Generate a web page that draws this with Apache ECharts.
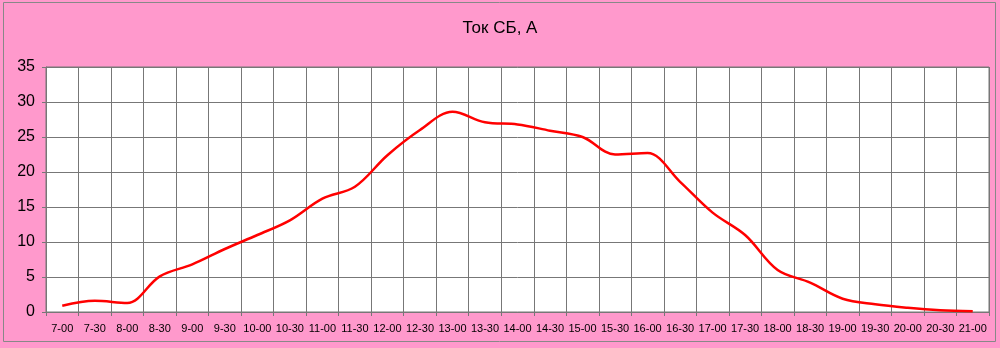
<!DOCTYPE html>
<html><head><meta charset="utf-8">
<script src="https://cdn.jsdelivr.net/npm/echarts@6/dist/echarts.min.js"></script>
<style>html,body{margin:0;padding:0;background:#FF99CC}#c{width:1000px;height:348px}</style>
</head><body><div id="c"></div>
<script>
var categories = ['7-00','7-30','8-00','8-30','9-00','9-30','10-00','10-30','11-00','11-30','12-00','12-30','13-00','13-30','14-00','14-30','15-00','15-30','16-00','16-30','17-00','17-30','18-00','18-30','19-00','19-30','20-00','20-30','21-00'];
var current = [0.9,1.6,1.3,5.1,6.8,9.0,11.0,13.1,16.2,17.9,22.4,26.0,28.6,27.1,26.8,25.9,25.0,22.5,22.7,18.6,14.2,11.0,6.0,4.2,1.9,1.1,0.6,0.25,0.1];
var yTicks = {min:0, max:35, step:5};
var titleText = 'Ток СБ, А';

var chart = echarts.init(document.getElementById('c'), null, {renderer:'canvas'});
var font = 'Arial, "Liberation Sans", sans-serif';
chart.setOption({
  backgroundColor:'#FF99CC',
  animation:false,
  title:{text:titleText, left:'center', top:15, textStyle:{fontFamily:font, fontSize:17, fontWeight:'normal', color:'#000'}},
  graphic:[{type:'rect', shape:{x:3.5,y:2.5,width:992,height:339}, style:{fill:'none', stroke:'#888', lineWidth:1}, z:-1}],
  grid:{left:46, right:11, top:67, bottom:36, show:true, backgroundColor:'#fff', borderColor:'#777', borderWidth:1},
  xAxis:{type:'category', data:categories, boundaryGap:true,
    axisLine:{lineStyle:{color:'#777', width:1}},
    axisTick:{show:true, interval:0, length:4, lineStyle:{color:'#777'}},
    axisLabel:{interval:0, color:'#000', fontFamily:font, fontSize:11, margin:11},
    splitLine:{show:true, interval:0, lineStyle:{color:'#777', width:1}}},
  yAxis:{type:'value', min:yTicks.min, max:yTicks.max, interval:yTicks.step,
    axisLine:{show:true, lineStyle:{color:'#777'}},
    axisTick:{show:true, length:4, lineStyle:{color:'#777'}},
    axisLabel:{color:'#000', fontFamily:font, fontSize:16, margin:11},
    splitLine:{show:true, lineStyle:{color:'#777', width:1}}},
  series:[{type:'line', data:current, smooth:0.35, symbol:'none',
    lineStyle:{color:'#FF0000', width:2.5}}]
});
</script></body></html>
